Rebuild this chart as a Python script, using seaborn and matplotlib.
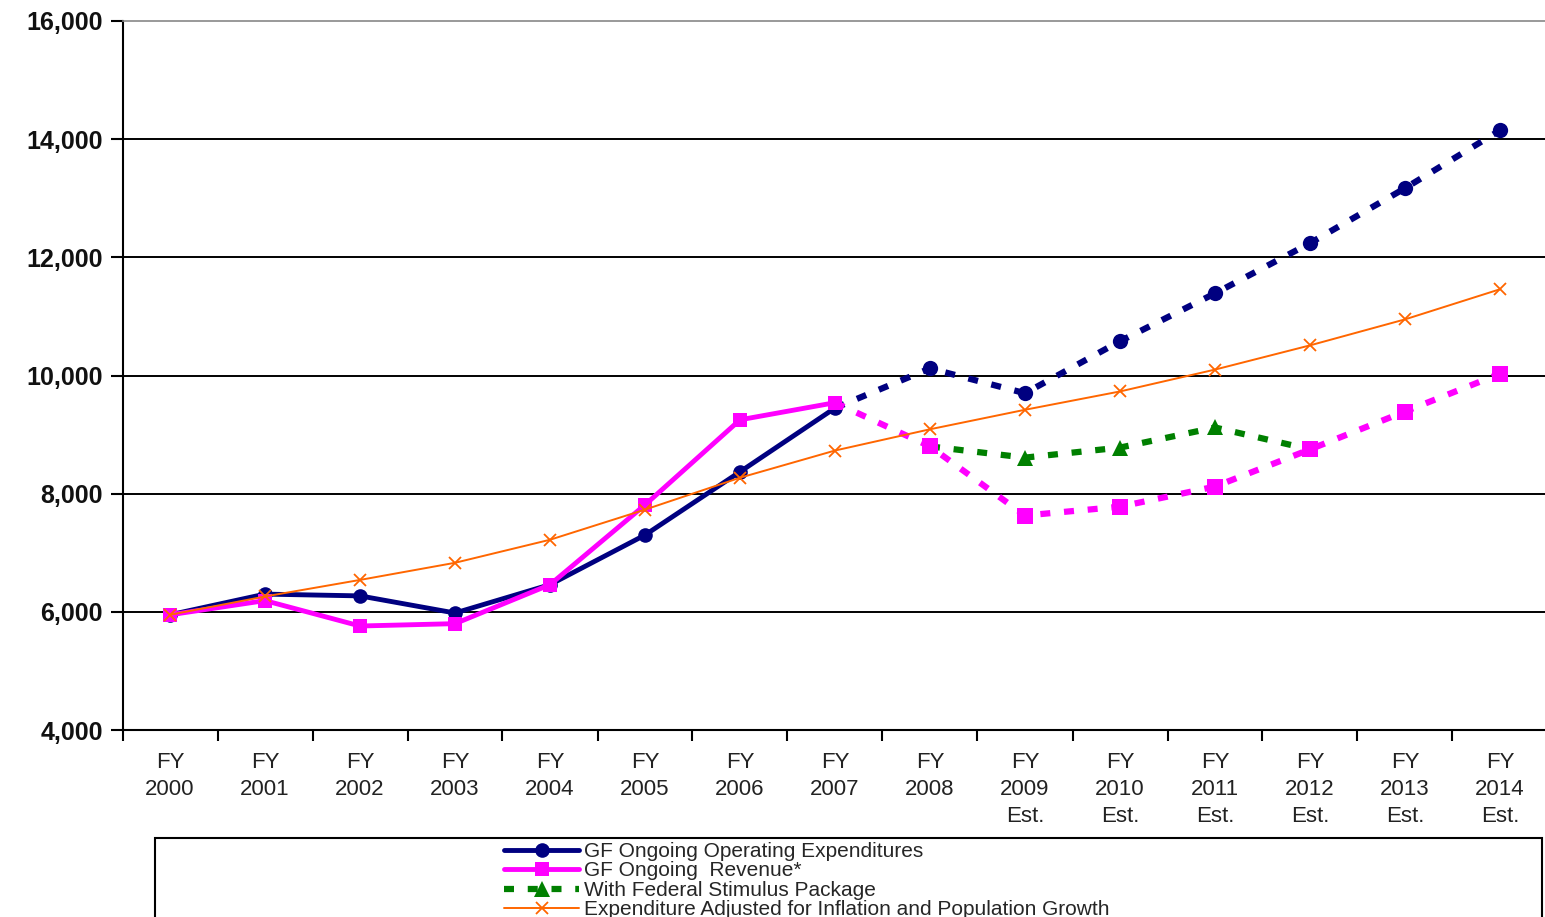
import numpy as np
import pandas as pd
import matplotlib
matplotlib.use("Agg")
import matplotlib.pyplot as plt
import matplotlib.patches as patches
import seaborn as sns

# Fiscal years shown on the x axis
years = ["FY\n2000", "FY\n2001", "FY\n2002", "FY\n2003", "FY\n2004", "FY\n2005",
         "FY\n2006", "FY\n2007", "FY\n2008", "FY\n2009\nEst.", "FY\n2010\nEst.",
         "FY\n2011\nEst.", "FY\n2012\nEst.", "FY\n2013\nEst.", "FY\n2014\nEst."]

# Values ($ millions)
expenditures = [5950, 6300, 6270, 5980, 6460, 7300, 8370, 9450,
                10120, 9700, 10580, 11390, 12240, 13170, 14150]
revenue = [5950, 6190, 5760, 5800, 6460, 7810, 9250, 9540,
           8800, 7630, 7780, 8120, 8750, 9390, 10030]
stimulus = [np.nan] * 8 + [8800, 8610, 8780, 9120, 8750, np.nan, np.nan]
adjusted = [5950, 6260, 6540, 6830, 7220, 7730, 8270, 8730,
            9090, 9420, 9730, 10100, 10510, 10950, 11460]

NAVY = "#000080"
MAGENTA = "#FF00FF"
GREEN = "#008000"
ORANGE = "#FF6600"

sns.set_theme(style="white")
plt.rcParams["font.family"] = ["Liberation Sans", "DejaVu Sans"]

W, H = 1545, 917
fig = plt.figure(figsize=(W / 100, H / 100), dpi=100)
ax = fig.add_axes([122.5 / W, (H - 730) / H, 1425 / W, 709 / H])

x = np.arange(len(years))
df = pd.DataFrame({"x": x, "exp": expenditures, "rev": revenue,
                   "stim": stimulus, "adj": adjusted})
act = df[df.x <= 7]
est = df[df.x >= 7]
dash = (0, (1.6, 2.2))

# expenditures
sns.lineplot(data=act, x="x", y="exp", ax=ax, color=NAVY, lw=3.5, marker="o",
             markersize=10.5, mec=NAVY, mew=0, label="GF Ongoing Operating Expenditures")
sns.lineplot(data=est.iloc[1:], x="x", y="exp", ax=ax, color=NAVY, lw=0, marker="o",
             markersize=11, mec=NAVY, mew=0)
sns.lineplot(data=est, x="x", y="exp", ax=ax, color=NAVY, lw=4.5, linestyle=dash)

# stimulus
stim = df.dropna(subset=["stim"])
sns.lineplot(data=stim, x="x", y="stim", ax=ax, color=GREEN, lw=4.5,
             linestyle=dash, marker="^", markersize=11, mec=GREEN, mew=0,
             label="With Federal Stimulus Package")

# revenue
sns.lineplot(data=act, x="x", y="rev", ax=ax, color=MAGENTA, lw=3.5, marker="s",
             markersize=10.5, mec=MAGENTA, mew=0, label="GF Ongoing  Revenue*")
sns.lineplot(data=est.iloc[1:], x="x", y="rev", ax=ax, color=MAGENTA, lw=0, marker="s",
             markersize=11, mec=MAGENTA, mew=0)
sns.lineplot(data=est, x="x", y="rev", ax=ax, color=MAGENTA, lw=4.5, linestyle=dash)

# inflation / population adjusted
sns.lineplot(data=df, x="x", y="adj", ax=ax, color=ORANGE, lw=1.4, marker="x",
             markersize=9, mec=ORANGE, mew=1.3,
             label="Expenditure Adjusted for Inflation and Population Growth")

ax.set_xlim(-0.5, 14.5)
ax.set_ylim(4000, 16000)
ax.set_yticks(range(4000, 16001, 2000))
ax.set_yticklabels([f"{v:,}" for v in range(4000, 16001, 2000)],
                   fontsize=18, fontweight="bold", color="#111111")
ax.set_xticks(x)
ax.set_xticklabels(years, fontsize=16, linespacing=1.38, color="#222222")
ax.set_xticks(np.arange(-0.5, 14.6, 1), minor=True)
ax.tick_params(axis="x", which="major", length=0, pad=16)
ax.tick_params(axis="x", which="minor", length=8, width=1.5, direction="out",
               color="black", bottom=True)
ax.tick_params(axis="y", length=9, width=1.5, direction="out", color="black",
               left=True, pad=5)
ax.set_xlabel("")
ax.set_ylabel("")

for v in range(6000, 15000, 2000):
    ax.axhline(v, color="black", lw=1.4, zorder=0)
ax.spines["left"].set_color("black")
ax.spines["left"].set_linewidth(1.5)
ax.spines["bottom"].set_color("black")
ax.spines["bottom"].set_linewidth(1.5)
ax.spines["top"].set_color("#888888")
ax.spines["top"].set_linewidth(1.2)
ax.spines["right"].set_visible(False)

# legend box
handles, labels = ax.get_legend_handles_labels()
order = [0, 2, 1, 3]
ax.get_legend().remove()
rect = patches.Rectangle((155 / W, -0.02), 1387 / W, (H - 838) / H + 0.02,
                         transform=fig.transFigure, fill=False, edgecolor="black",
                         lw=1.5, clip_on=False)
fig.add_artist(rect)
fig.legend([handles[i] for i in order], [labels[i] for i in order],
           loc="upper left", bbox_to_anchor=(504 / W, (H - 842) / H),
           frameon=False, fontsize=15, labelspacing=0.02, handlelength=3.6,
           handletextpad=0.25, borderpad=0, borderaxespad=0)

fig.savefig("out.png", dpi=100)
